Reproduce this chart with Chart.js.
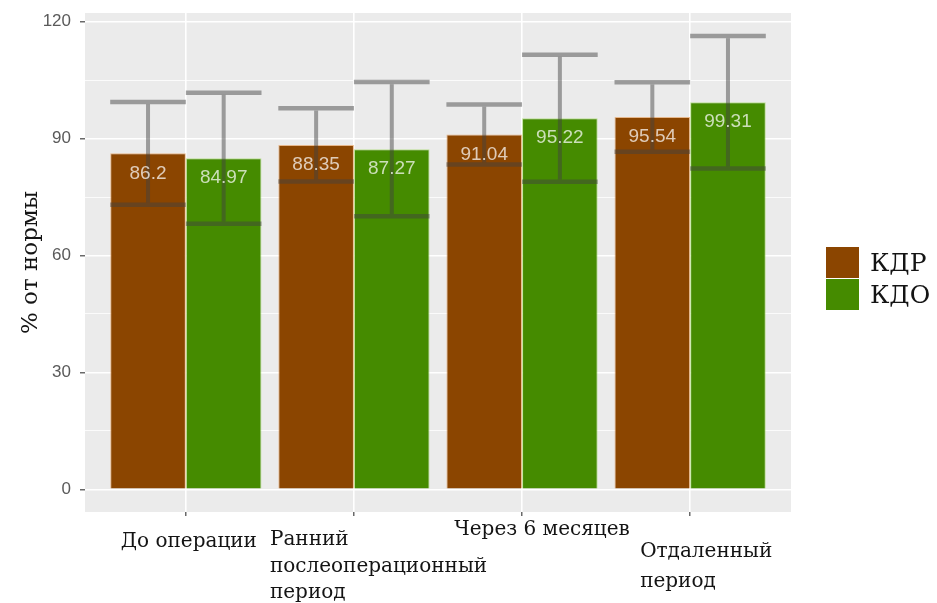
<!DOCTYPE html>
<html>
<head>
<meta charset="utf-8">
<script src="https://cdn.jsdelivr.net/npm/chart.js@4.4.1/dist/chart.umd.min.js"></script>
<style>
  html, body { margin: 0; padding: 0; background: #ffffff; }
  #wrap { width: 937px; height: 603px; }
</style>
</head>
<body>
<div id="wrap"><canvas id="c" width="937" height="603"></canvas></div>
<script>
// Categories (multi-line where the label wraps)
const categories = [
  ["До операции"],
  ["Ранний", "послеоперационный", "период"],
  ["Через 6 месяцев"],
  ["Отдаленный", "период"]
];
const seriesNames = ["КДР", "КДО"];
// Means (% of norm) and standard deviations for each period
const kdrMeans = [86.2, 88.35, 91.04, 95.54];
const kdoMeans = [84.97, 87.27, 95.22, 99.31];
const kdrSd = [13.2, 9.4, 7.7, 8.9];
const kdoSd = [16.8, 17.2, 16.3, 17.0];
const yTicks = [0, 15, 30, 45, 60, 75, 90, 105, 120];

// Appearance
const seriesColors = ["#8B4500", "#458B00"];
const seriesEdges = ["rgba(225,140,60,0.55)", "rgba(150,215,80,0.55)"];
const serif = "'DejaVu Serif', 'Liberation Serif', serif";
const sans = "'Liberation Sans', Arial, sans-serif";
// Placement of the category captions under the axis (offset from tick, line offsets below panel)
const captionLayout = [
  { dx: 3,   align: "center", lines: [30] },
  { dx: -84, align: "left",   lines: [28, 55, 81] },
  { dx: 20,  align: "center", lines: [18] },
  { dx: -50, align: "left",   lines: [40, 70] }
];

const panelBackground = {
  id: "panelBackground",
  beforeDraw(chart) {
    const { ctx, chartArea: a } = chart;
    ctx.save();
    ctx.fillStyle = "#ffffff";
    ctx.fillRect(0, 0, chart.width, chart.height);
    ctx.fillStyle = "#EBEBEB";
    ctx.fillRect(a.left, a.top, a.right - a.left, a.bottom - a.top);
    ctx.restore();
  }
};

const errorBars = {
  id: "errorBars",
  afterDatasetsDraw(chart) {
    const { ctx } = chart;
    const y = chart.scales.y;
    ctx.save();
    ctx.strokeStyle = "rgba(65,65,65,0.48)";
    ctx.lineCap = "butt";
    chart.data.datasets.forEach((ds, di) => {
      const meta = chart.getDatasetMeta(di);
      meta.data.forEach((el, i) => {
        const m = ds.data[i].y, s = ds.sd[i];
        const yt = y.getPixelForValue(m + s);
        const yb = y.getPixelForValue(m - s);
        const hw = el.width / 2;
        // whiskers
        ctx.lineWidth = 4.5;
        ctx.beginPath();
        ctx.moveTo(el.x - hw, yt); ctx.lineTo(el.x + hw, yt);
        ctx.moveTo(el.x - hw, yb); ctx.lineTo(el.x + hw, yb);
        ctx.stroke();
        // stem between the whiskers
        ctx.lineWidth = 4;
        ctx.beginPath();
        ctx.moveTo(el.x, yt + 2.25); ctx.lineTo(el.x, yb - 2.25);
        ctx.stroke();
      });
    });
    ctx.restore();
  }
};

const valueLabels = {
  id: "valueLabels",
  afterDatasetsDraw(chart) {
    const { ctx } = chart;
    const y = chart.scales.y;
    ctx.save();
    ctx.font = "19px " + sans;
    ctx.fillStyle = "rgba(255,255,255,0.72)";
    ctx.textAlign = "center";
    ctx.textBaseline = "middle";
    chart.data.datasets.forEach((ds, di) => {
      chart.getDatasetMeta(di).data.forEach((el, i) => {
        const v = ds.data[i].y;
        ctx.fillText(String(v), el.x, y.getPixelForValue(v) + 20);
      });
    });
    ctx.restore();
  }
};

const captions = {
  id: "captions",
  afterDraw(chart) {
    const { ctx, chartArea: a } = chart;
    const x = chart.scales.x;
    ctx.save();
    ctx.font = "20px " + serif;
    ctx.fillStyle = "#141414";
    ctx.textBaseline = "middle";
    categories.forEach((lines, i) => {
      const lay = captionLayout[i];
      ctx.textAlign = lay.align;
      const px = x.getPixelForValue(i + 1) + lay.dx;
      lines.forEach((t, k) => ctx.fillText(t, px, a.bottom + lay.lines[k]));
    });
    ctx.restore();
  }
};

const sideLegend = {
  id: "sideLegend",
  afterDraw(chart) {
    const { ctx, chartArea: a } = chart;
    const left = a.right + 35, top = 247, w = 33, h = 31;
    ctx.save();
    ctx.font = "25px " + serif;
    ctx.textBaseline = "middle";
    ctx.textAlign = "left";
    chart.data.datasets.forEach((ds, i) => {
      const ty = top + i * (h + 1);
      ctx.fillStyle = ds.backgroundColor;
      ctx.fillRect(left, ty, w, h);
      ctx.fillStyle = "#141414";
      ctx.fillText(ds.label, left + w + 11, ty + h / 2 + 2);
    });
    ctx.restore();
  }
};

const makePoints = arr => arr.map((v, i) => ({ x: i + 1, y: v }));

new Chart(document.getElementById("c"), {
  type: "bar",
  data: {
    datasets: [
      { label: seriesNames[0], data: makePoints(kdrMeans), sd: kdrSd,
        backgroundColor: seriesColors[0], borderColor: seriesEdges[0], borderWidth: 1 },
      { label: seriesNames[1], data: makePoints(kdoMeans), sd: kdoSd,
        backgroundColor: seriesColors[1], borderColor: seriesEdges[1], borderWidth: 1 }
    ]
  },
  options: {
    responsive: false,
    animation: false,
    devicePixelRatio: 1,
    layout: { padding: { top: 13, right: 146, left: 0, bottom: 0 } },
    datasets: { bar: { categoryPercentage: 0.9, barPercentage: 1.0 } },
    plugins: { legend: { display: false }, tooltip: { enabled: false } },
    scales: {
      x: {
        type: "linear",
        min: 0.4,
        max: 4.6,
        offset: false,
        afterBuildTicks: s => { s.ticks = categories.map((_, i) => ({ value: i + 1 })); },
        afterFit: s => { s.height = 91; s.paddingLeft = 0; s.paddingRight = 0; },
        border: { display: false },
        grid: { offset: false, color: "#ffffff", lineWidth: 1.6, tickColor: "#444", tickWidth: 1.2, tickLength: 4 },
        ticks: { display: false }
      },
      y: {
        min: -5.8,
        max: 122.2,
        afterBuildTicks: s => { s.ticks = yTicks.map(v => ({ value: v })); },
        afterFit: s => { s.width = 85; s.paddingTop = 0; s.paddingBottom = 0; },
        border: { display: false },
        grid: {
          color: "#ffffff",
          lineWidth: c => (c.tick && c.tick.value % 30 === 0 ? 1.6 : 0.8),
          tickColor: c => (c.tick && c.tick.value % 30 === 0 ? "#444" : "rgba(0,0,0,0)"),
          tickWidth: 1.2,
          tickLength: 5
        },
        ticks: {
          callback: v => (v % 30 === 0 ? String(v) : ""),
          color: "#5a5a5a",
          font: { family: sans, size: 17 },
          padding: 9
        },
        title: {
          display: true,
          text: "% от нормы",
          color: "#141414",
          font: { family: serif, size: 23 },
          padding: { top: 17, bottom: 0 }
        }
      }
    }
  },
  plugins: [panelBackground, errorBars, valueLabels, captions, sideLegend]
});
</script>
</body>
</html>
